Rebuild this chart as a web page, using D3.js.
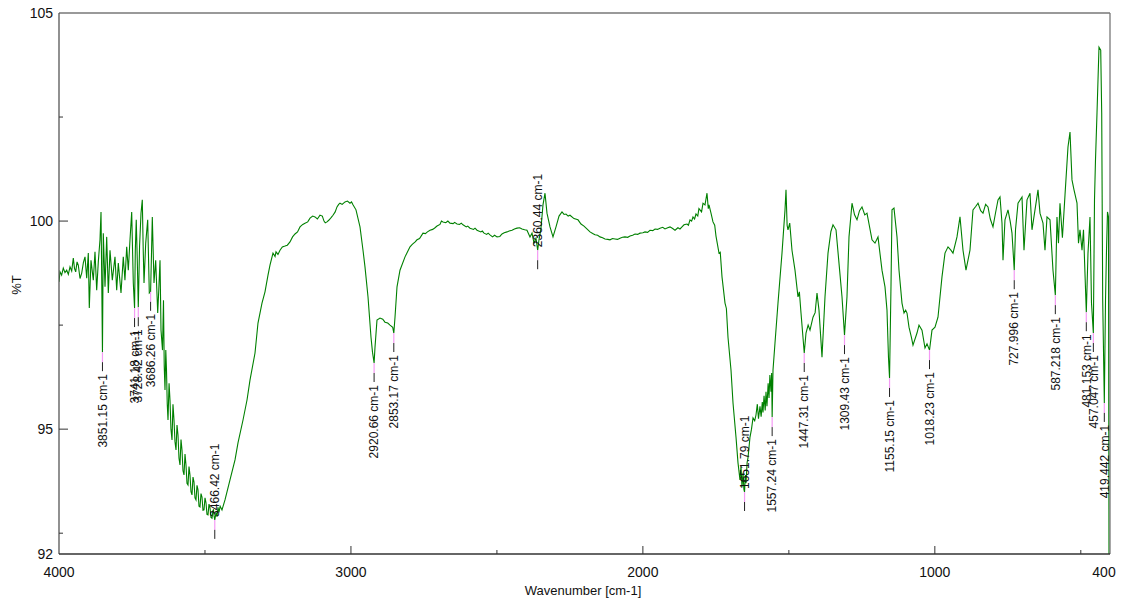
<!DOCTYPE html>
<html>
<head>
<meta charset="utf-8">
<script src="https://cdn.jsdelivr.net/npm/d3@7"></script>
<style>
  body { margin: 0; background: #fff; }
  svg { display: block; }
  text { font-family: "Liberation Sans", Arial, sans-serif; fill: #111; }
</style>
</head>
<body>
<svg id="chart" width="1127" height="605"></svg>
<script>
// IR spectrum: [wavenumber (cm-1), transmittance (%T)]
const spectrum = [
  [4000, 98.54],[3996.6, 98.78],[3991.0, 98.70],[3985.3, 98.87],[3979.5, 98.76],[3973.6, 98.82],
  [3968.0, 98.72],[3962.3, 98.90],[3956.5, 98.80],[3951.0, 99.11],[3946.8, 98.86],[3942.8, 98.78],
  [3938.2, 99.02],[3933.9, 98.94],[3928.0, 98.62],[3922.2, 98.75],[3916.5, 99.00],[3910.9, 99.14],
  [3905.1, 98.63],[3899.6, 99.23],[3896.2, 97.91],[3890.4, 99.06],[3882.5, 98.58],[3876.7, 99.26],
  [3870.9, 98.34],[3865.4, 99.02],[3859.6, 99.55],[3856.1, 100.22],[3853.6, 98.60],[3851.15, 96.85],
  [3848.3, 99.71],[3842.4, 98.42],[3836.6, 99.62],[3831.1, 98.27],[3825.3, 99.30],[3817.4, 98.58],
  [3808.2, 99.14],[3802.4, 98.34],[3796.9, 98.99],[3787.6, 98.27],[3779.8, 99.14],[3774.1, 98.58],
  [3768.1, 99.38],[3762.6, 98.82],[3756.8, 99.55],[3751.0, 100.22],[3745.5, 98.51],[3741.18, 97.91],
  [3738.6, 99.30],[3735.4, 100.03],[3732.0, 99.10],[3728.42, 97.93],[3724.0, 99.40],[3719.1, 100.19],
  [3714.7, 100.51],[3711.5, 99.30],[3708.8, 98.51],[3703.0, 99.47],[3696.2, 100.03],[3690.7, 98.27],
  [3686.26, 98.30],[3683.2, 99.20],[3680.4, 100.10],[3674.6, 98.51],[3668.8, 99.06],[3661.9, 97.79],
  [3658.5, 98.30],[3654.0, 99.06],[3650.6, 97.38],[3645.5, 96.90],[3642.1, 98.10],[3639.5, 96.50],
  [3636.9, 95.94],[3634.2, 96.90],[3631.8, 96.42],[3629.2, 95.60],[3626.6, 95.22],[3623.0, 96.10],
  [3619.8, 95.70],[3616.5, 95.00],[3612.9, 94.74],[3609.6, 95.60],[3606.1, 95.22],[3602.7, 94.70],
  [3599.2, 94.50],[3595.8, 95.10],[3592.4, 94.86],[3589.0, 94.30],[3585.5, 94.14],[3582.1, 94.75],
  [3578.7, 94.50],[3575.3, 94.00],[3571.8, 93.90],[3568.4, 94.40],[3565.0, 94.14],[3561.6, 93.70],
  [3558.1, 93.66],[3554.7, 94.10],[3551.3, 93.90],[3547.9, 93.50],[3544.4, 93.42],[3541.0, 93.85],
  [3537.6, 93.73],[3534.2, 93.35],[3530.7, 93.30],[3527.3, 93.65],[3523.9, 93.54],[3520.5, 93.15],
  [3517.0, 93.13],[3513.6, 93.45],[3510.2, 93.37],[3506.8, 93.05],[3503.3, 93.06],[3499.9, 93.35],
  [3496.5, 93.23],[3493.1, 92.95],[3489.6, 92.94],[3486.2, 93.20],[3482.8, 93.11],[3479.4, 92.88],
  [3475.9, 92.86],[3472.5, 93.05],[3470.8, 93.06],[3468.6, 92.90],[3466.42, 92.82],[3462.0, 93.00],
  [3458.8, 92.90],[3455.4, 93.12],[3452.0, 93.00],[3448.0, 93.15],[3441.7, 93.06],[3431.4, 93.30],
  [3414.3, 93.78],[3397.1, 94.26],[3386.9, 94.67],[3369.7, 95.22],[3356.0, 95.70],[3345.8, 96.18],
  [3328.6, 96.83],[3318.4, 97.55],[3304.7, 98.03],[3294.4, 98.30],[3284.1, 98.70],[3277.3, 98.94],
  [3267.0, 99.23],[3260.0, 99.15],[3256.7, 99.26],[3250.0, 99.20],[3243.0, 99.30],[3235.0, 99.38],
  [3225.9, 99.40],[3218.0, 99.42],[3208.8, 99.50],[3200.0, 99.62],[3191.6, 99.69],[3183.0, 99.74],
  [3174.5, 99.86],[3165.0, 99.92],[3157.4, 99.95],[3148.0, 99.98],[3140.2, 100.07],[3131.0, 100.12],
  [3123.1, 100.10],[3115.0, 100.05],[3106.0, 100.14],[3098.0, 100.12],[3092.3, 100.00],[3088.0, 99.96],
  [3082.0, 99.98],[3076.0, 100.02],[3071.7, 100.05],[3066.0, 100.10],[3061.5, 100.14],[3054.0, 100.22],
  [3047.8, 100.34],[3042.0, 100.40],[3037.5, 100.43],[3030.0, 100.40],[3020.4, 100.46],[3012.0, 100.48],
  [3003.2, 100.43],[2998.0, 100.46],[2993.0, 100.39],[2982.7, 100.27],[2969.0, 99.86],[2958.7, 99.30],
  [2951.9, 98.90],[2941.6, 98.18],[2931.3, 97.21],[2926.2, 96.85],[2920.66, 96.59],[2917.6, 96.97],
  [2910.8, 97.62],[2900.5, 97.67],[2891.0, 97.64],[2883.4, 97.57],[2874.0, 97.55],[2866.2, 97.50],
  [2857.0, 97.45],[2853.17, 97.31],[2849.1, 97.69],[2842.2, 98.42],[2832.0, 98.82],[2814.8, 99.14],
  [2797.7, 99.38],[2790.0, 99.44],[2780.0, 99.50],[2773.7, 99.55],[2765.0, 99.58],[2753.2, 99.71],
  [2745.0, 99.70],[2738.0, 99.74],[2729.2, 99.78],[2720.0, 99.80],[2712.0, 99.84],[2705.2, 99.88],
  [2695.0, 99.92],[2690.0, 100.00],[2684.7, 99.98],[2675.0, 99.96],[2668.0, 100.00],[2660.7, 99.95],
  [2650.0, 99.94],[2645.0, 99.97],[2636.7, 99.93],[2628.0, 99.92],[2622.0, 99.95],[2616.2, 99.91],
  [2605.0, 99.86],[2600.0, 99.88],[2592.2, 99.83],[2580.0, 99.80],[2575.0, 99.83],[2568.2, 99.78],
  [2555.0, 99.74],[2550.0, 99.76],[2544.2, 99.71],[2535.0, 99.68],[2530.0, 99.71],[2523.7, 99.67],
  [2515.0, 99.62],[2508.0, 99.66],[2499.7, 99.62],[2490.0, 99.63],[2482.6, 99.69],[2475.0, 99.72],
  [2465.5, 99.74],[2458.0, 99.76],[2448.3, 99.78],[2440.0, 99.81],[2431.2, 99.83],[2422.0, 99.84],
  [2414.1, 99.81],[2405.0, 99.79],[2397.0, 99.78],[2386.7, 99.62],[2379.8, 99.71],[2373.0, 99.47],
  [2366.1, 99.59],[2360.44, 99.30],[2355.9, 99.55],[2349.0, 99.83],[2342.2, 100.39],[2335.3, 100.67],
  [2328.5, 100.19],[2318.2, 99.86],[2307.9, 99.62],[2297.6, 99.86],[2287.3, 100.12],[2277.1, 100.22],
  [2270.0, 100.16],[2263.4, 100.17],[2256.0, 100.12],[2249.7, 100.14],[2236.0, 100.06],[2222.3, 100.03],
  [2212.0, 99.93],[2201.7, 99.88],[2190.0, 99.80],[2181.2, 99.74],[2172.0, 99.70],[2164.0, 99.67],
  [2155.0, 99.66],[2146.9, 99.62],[2138.0, 99.60],[2129.8, 99.57],[2120.0, 99.56],[2112.7, 99.55],
  [2104.0, 99.58],[2095.5, 99.57],[2087.0, 99.56],[2078.4, 99.59],[2070.0, 99.61],[2061.3, 99.62],
  [2052.0, 99.61],[2044.2, 99.64],[2035.0, 99.66],[2027.0, 99.69],[2018.0, 99.68],[2009.9, 99.71],
  [2000.0, 99.72],[1992.8, 99.74],[1984.0, 99.73],[1975.6, 99.78],[1966.0, 99.77],[1958.5, 99.81],
  [1950.0, 99.80],[1941.4, 99.83],[1932.0, 99.85],[1924.3, 99.81],[1915.0, 99.84],[1907.1, 99.86],
  [1898.0, 99.82],[1890.0, 99.78],[1880.0, 99.84],[1872.9, 99.81],[1866.0, 99.86],[1859.2, 99.91],
  [1848.9, 99.93],[1844.0, 99.90],[1838.6, 100.03],[1833.0, 100.00],[1828.4, 100.10],[1823.0, 100.05],
  [1818.1, 100.17],[1812.0, 100.12],[1808.0, 100.30],[1804.4, 100.27],[1799.0, 100.22],[1794.1, 100.43],
  [1787.3, 100.39],[1780.4, 100.67],[1776.0, 100.30],[1773.6, 100.39],[1766.7, 100.19],[1759.9, 99.98],
  [1754.0, 99.90],[1749.6, 99.64],[1739.3, 99.23],[1735.0, 99.25],[1729.0, 98.66],[1718.7, 98.03],
  [1714.0, 97.90],[1708.5, 97.21],[1698.2, 96.42],[1691.3, 95.63],[1681.1, 94.81],[1674.2, 94.19],
  [1667.4, 93.78],[1664.0, 94.10],[1660.5, 93.61],[1657.0, 93.95],[1654.0, 93.55],[1651.79, 93.49],
  [1649.0, 93.90],[1646.8, 93.70],[1643.0, 94.20],[1640.0, 94.31],[1633.1, 94.81],[1628.0, 95.00],
  [1622.8, 95.27],[1617.0, 95.20],[1612.6, 95.34],[1608.0, 95.60],[1604.0, 95.25],[1598.9, 95.55],
  [1595.0, 95.30],[1591.0, 95.65],[1588.6, 95.40],[1585.0, 95.80],[1581.0, 95.45],[1578.3, 95.90],
  [1575.0, 95.55],[1571.0, 96.10],[1568.0, 95.75],[1565.0, 96.30],[1561.2, 95.90],[1559.0, 96.35],
  [1557.24, 95.29],[1554.3, 96.42],[1547.5, 97.07],[1537.2, 98.03],[1523.5, 99.23],[1513.2, 100.27],
  [1509.8, 100.75],[1506.0, 99.90],[1503.0, 99.79],[1497.0, 99.95],[1489.3, 99.30],[1479.0, 98.82],
  [1468.7, 98.18],[1464.0, 98.30],[1458.4, 97.79],[1447.31, 96.83],[1441.3, 97.31],[1434.0, 97.50],
  [1427.6, 97.38],[1417.3, 97.69],[1410.0, 97.80],[1403.6, 98.27],[1396.8, 97.86],[1386.5, 96.73],
  [1376.2, 98.18],[1365.9, 99.23],[1356.0, 99.75],[1348.8, 99.91],[1338.5, 99.79],[1328.3, 98.99],
  [1318.0, 98.18],[1309.43, 97.26],[1300.9, 98.18],[1294.0, 99.62],[1283.7, 100.43],[1275.0, 100.15],
  [1266.6, 100.03],[1258.0, 100.25],[1249.5, 100.34],[1240.0, 100.15],[1232.4, 100.19],[1215.2, 99.55],
  [1205.0, 99.47],[1194.7, 99.62],[1181.0, 98.82],[1170.7, 98.42],[1163.9, 97.86],[1158.8, 96.73],
  [1155.15, 96.23],[1150.2, 98.42],[1146.7, 100.27],[1139.9, 100.31],[1129.6, 99.62],[1122.7, 98.82],
  [1112.5, 98.03],[1105.6, 97.79],[1100.0, 97.86],[1095.3, 97.79],[1088.5, 97.45],[1080.0, 97.20],
  [1074.8, 97.02],[1061.1, 97.31],[1054.2, 97.50],[1044.0, 97.38],[1033.7, 96.95],[1026.8, 97.05],
  [1018.23, 96.90],[1009.7, 97.38],[999.4, 97.45],[989.2, 97.69],[975.5, 98.66],[965.2, 99.23],
  [954.9, 99.38],[945.0, 99.30],[937.8, 99.23],[924.1, 99.62],[913.8, 100.10],[903.5, 99.30],
  [893.3, 98.82],[879.6, 99.30],[869.3, 100.27],[860.0, 100.35],[852.1, 100.43],[843.0, 100.25],
  [835.0, 100.19],[826.0, 100.40],[817.9, 100.34],[810.0, 100.05],[800.8, 99.86],[792.0, 100.20],
  [783.6, 100.51],[776.8, 100.58],[769.9, 99.95],[766.5, 99.06],[759.7, 100.03],[749.4, 100.27],
  [742.0, 100.00],[735.7, 99.71],[727.996, 98.82],[723.7, 99.79],[715.1, 100.43],[701.4, 100.58],
  [694.6, 99.30],[684.3, 100.51],[674.0, 100.67],[667.2, 99.79],[656.9, 100.27],[646.6, 100.75],
  [639.8, 100.19],[629.5, 99.95],[622.7, 99.30],[615.8, 100.10],[605.5, 100.03],[595.3, 98.82],
  [587.218, 98.22],[581.6, 100.10],[576.5, 99.47],[571.3, 100.43],[563.0, 99.60],[554.1, 100.63],
  [543.9, 101.78],[537.0, 102.14],[530.2, 100.99],[523.3, 100.75],[513.0, 100.43],[507.9, 99.47],
  [502.8, 99.79],[495.9, 99.30],[490.8, 99.79],[481.153, 97.81],[475.4, 99.23],[468.5, 100.10],
  [463.4, 98.03],[457.047, 97.31],[453.1, 100.51],[449.7, 101.47],[444.5, 102.60],[437.7, 104.18],
  [431.8, 104.11],[428.4, 102.60],[425.0, 98.10],[419.442, 95.63],[415.4, 98.10],[412.0, 99.30],
  [408.6, 100.22],[405.2, 100.10],[403.4, 91.8],[400, 91.5]
];

// Picked peaks (cm-1)
const peaks = [3851.15, 3741.18, 3728.42, 3686.26, 3466.42, 2920.66, 2853.17, 2360.44,
  1651.79, 1557.24, 1447.31, 1309.43, 1155.15, 1018.23, 727.996, 587.218, 481.153, 457.047, 419.442];
// Peaks whose label text is written above the marker
const peaksLabelledAbove = [3466.42, 2360.44, 1651.79];

const xTickLabels = [4000, 3000, 2000, 1000, 400];
const xMajorTicks = [3000, 2000, 1000];
const xMinorTicks = [3500, 2500, 1500, 500];
const yTickLabels = [105, 100, 95, 92];
const yMajorTicks = [100, 95];
const yMinorTicks = [102.5, 97.5, 92.5];

const xTitle = "Wavenumber [cm-1]";
const yTitle = "%T";

const svg = d3.select("#chart");
const plot = { left: 59, right: 1110, top: 13, bottom: 554 };

const x = d3.scaleLinear().domain([4000, 400]).range([plot.left, plot.right]);
const y = d3.scaleLinear().domain([92, 105]).range([plot.bottom, plot.top]);

svg.append("defs").append("clipPath").attr("id", "plot-clip")
  .append("rect").attr("x", plot.left).attr("y", plot.top)
  .attr("width", plot.right - plot.left).attr("height", plot.bottom - plot.top);

// Spectrum trace
const line = d3.line().x(d => x(d[0])).y(d => y(d[1]));
svg.append("path")
  .datum(spectrum)
  .attr("clip-path", "url(#plot-clip)")
  .attr("fill", "none")
  .attr("stroke", "#008000")
  .attr("stroke-width", 1.1)
  .attr("d", line);

// Peak markers and labels
const peakT = new Map(spectrum.map(d => [d[0], d[1]]));
const labels = svg.append("g");
peaks.forEach(p => {
  const px = x(p), py = y(peakT.get(p));
  const above = peaksLabelledAbove.includes(p);
  const g = labels.append("g");
  g.append("line").attr("x1", px).attr("x2", px).attr("y1", py).attr("y2", py + 10)
    .attr("stroke", "#f49af4").attr("stroke-width", 1.2);
  g.append("line").attr("x1", px).attr("x2", px).attr("y1", py + 10).attr("y2", py + 19)
    .attr("stroke", "#222").attr("stroke-width", 1);
  const ty = above ? py - 3 : py + 22;
  g.append("text")
    .attr("transform", `translate(${px},${ty}) rotate(-90)`)
    .attr("text-anchor", above ? "start" : "end")
    .attr("dy", "0.35em")
    .attr("font-size", 12)
    .text(`${p.toPrecision(6)} cm-1`);
});

// Frame
const frame = svg.append("g").attr("stroke", "#555").attr("stroke-width", 1.3).attr("fill", "none");
frame.append("line").attr("x1", plot.left).attr("x2", plot.right).attr("y1", plot.top).attr("y2", plot.top).attr("stroke", "#777");
frame.append("line").attr("x1", plot.right).attr("x2", plot.right).attr("y1", plot.top).attr("y2", plot.bottom).attr("stroke", "#777");
frame.append("line").attr("x1", plot.left).attr("x2", plot.left).attr("y1", plot.top).attr("y2", plot.bottom);
frame.append("line").attr("x1", plot.left).attr("x2", plot.right).attr("y1", plot.bottom).attr("y2", plot.bottom).attr("stroke", "#333");

// Axis ticks (pointing into the plot)
const ticks = svg.append("g").attr("stroke", "#333").attr("stroke-width", 1);
xMajorTicks.forEach(v => ticks.append("line").attr("x1", x(v)).attr("x2", x(v)).attr("y1", plot.bottom).attr("y2", plot.bottom - 8));
xMinorTicks.forEach(v => ticks.append("line").attr("x1", x(v)).attr("x2", x(v)).attr("y1", plot.bottom).attr("y2", plot.bottom - 4));
yMajorTicks.forEach(v => ticks.append("line").attr("x1", plot.left).attr("x2", plot.left + 9).attr("y1", y(v)).attr("y2", y(v)));
yMinorTicks.forEach(v => ticks.append("line").attr("x1", plot.left).attr("x2", plot.left + 4).attr("y1", y(v)).attr("y2", y(v)));

// Tick labels
svg.append("g").selectAll("text").data(xTickLabels).join("text")
  .attr("x", d => d === 400 ? x(d) - 6 : x(d))
  .attr("y", 577)
  .attr("text-anchor", "middle")
  .attr("font-size", 14)
  .text(d => d);
svg.append("g").selectAll("text").data(yTickLabels).join("text")
  .attr("x", 53)
  .attr("y", d => y(d))
  .attr("dy", "0.35em")
  .attr("text-anchor", "end")
  .attr("font-size", 14)
  .text(d => d);

// Axis titles
svg.append("text").attr("x", 583).attr("y", 595).attr("text-anchor", "middle")
  .attr("font-size", 13).text(xTitle);
svg.append("text").attr("transform", "translate(16,285) rotate(-90)")
  .attr("text-anchor", "middle").attr("dy", "0.35em").attr("font-size", 13).text(yTitle);
</script>
</body>
</html>
